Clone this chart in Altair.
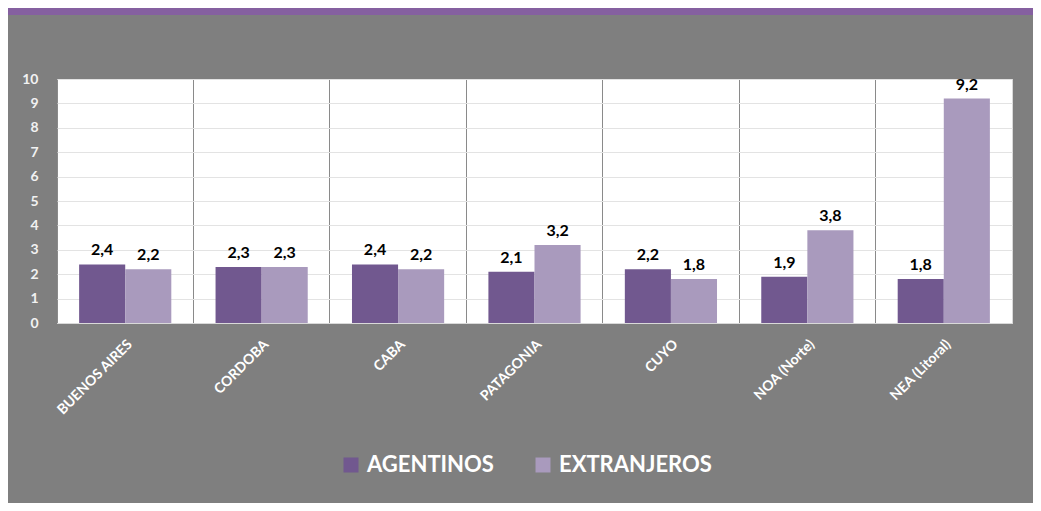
import altair as alt
import pandas as pd

categories = ["BUENOS AIRES", "CORDOBA", "CABA", "PATAGONIA", "CUYO", "NOA (Norte)", "NEA (Litoral)"]
series = ["AGENTINOS", "EXTRANJEROS"]
argentinos = [2.4, 2.3, 2.4, 2.1, 2.2, 1.9, 1.8]
extranjeros = [2.2, 2.3, 2.2, 3.2, 1.8, 3.8, 9.2]
y_ticks = list(range(0, 11))

rows = []
for c, a, e in zip(categories, argentinos, extranjeros):
    rows.append({"region": c, "serie": series[0], "valor": a})
    rows.append({"region": c, "serie": series[1], "valor": e})
df = pd.DataFrame(rows)

W, H = 955, 244
PL, PT, PR, PB = 49, 71, 21, 180

x_enc = alt.X(
    "region:N", sort=categories, title=None,
    scale=alt.Scale(paddingInner=0, paddingOuter=0),
    axis=alt.Axis(labelAngle=-45, labelAlign="right", labelBaseline="top",
                  labelColor="#ffffff", labelFontWeight="bold", labelFontSize=14,
                  labelPadding=14, ticks=False, domain=True, domainColor="#d9d9d9",
                  grid=True, gridColor="#8a8a8a", gridWidth=1, bandPosition=0,
                  labelOverlap=False),
)
xo_enc = alt.XOffset("serie:N", sort=series,
                     scale=alt.Scale(paddingInner=0, paddingOuter=0.48))
y_enc = alt.Y(
    "valor:Q", title=None,
    scale=alt.Scale(domain=[0, 10], nice=False),
    axis=alt.Axis(values=y_ticks, labelColor="#f2f2f2", labelFontWeight="bold",
                  labelFontSize=14, labelPadding=19, ticks=False, domain=False,
                  grid=True, gridColor="#e3e3e3", labelOverlap=False),
)

base = alt.Chart(df)

bars = base.mark_bar().encode(
    x=x_enc, xOffset=xo_enc, y=y_enc,
    color=alt.Color(
        "serie:N", sort=series,
        scale=alt.Scale(domain=series, range=["#71588f", "#a99abd"]),
        legend=alt.Legend(
            title=None, orient="none", legendX=283, legendY=375,
            direction="horizontal", columns=2, symbolType="square",
            symbolSize=225, symbolStrokeWidth=0, labelFontSize=22,
            labelFontWeight="bold", labelColor="#ffffff", labelOffset=5,
            columnPadding=38, labelLimit=300,
        ),
    ),
)

labels = base.transform_calculate(
    lbl="replace(format(datum.valor, '.1f'), '.', ',')"
).mark_text(dy=-9, baseline="alphabetic", fontWeight="bold", fontSize=16,
            color="#000000").encode(
    x=x_enc, xOffset=xo_enc, y=y_enc,
    text="lbl:N",
)

band = alt.Chart(pd.DataFrame({"k": [0]})).mark_rect(color="#8560a0").encode(
    x=alt.value(-PL), x2=alt.value(W + PR), y=alt.value(-PT), y2=alt.value(-PT + 7)
)

chart = alt.layer(bars, labels, band).properties(
    width=W, height=H,
    autosize=alt.AutoSizeParams(type="none"),
    padding={"left": PL, "top": PT, "right": PR, "bottom": PB},
    background="#7f7f7f",
).configure(font="Lato").configure_view(fill="#ffffff", stroke="#d9d9d9")

chart.save("out.html", embed_options={"renderer": "svg", "actions": False})
